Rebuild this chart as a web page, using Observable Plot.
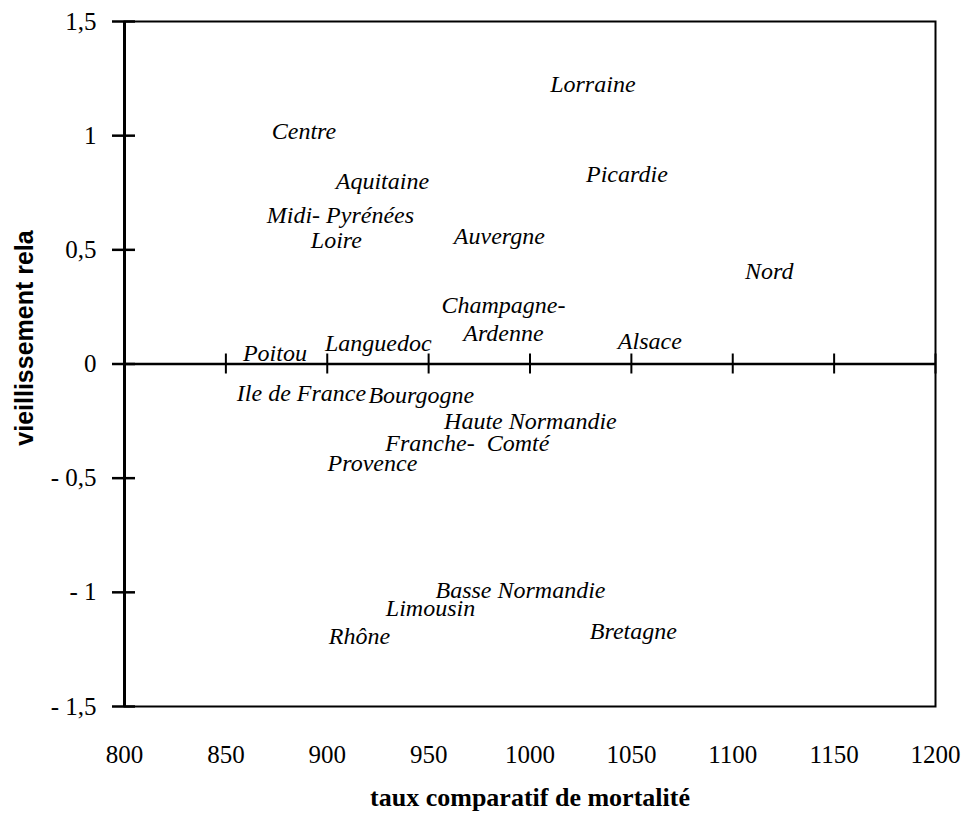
<!DOCTYPE html>
<html>
<head>
<meta charset="utf-8">
<script src="https://cdn.jsdelivr.net/npm/d3@7"></script>
<script src="https://cdn.jsdelivr.net/npm/@observablehq/plot@0.6"></script>
<style>
  html, body { margin: 0; padding: 0; background: #fff; }
  #chart svg { display: block; }
  #chart svg text.serif, #chart svg .serif text { font-family: "Liberation Serif", "Times New Roman", "DejaVu Serif", serif !important; }
  #chart svg .sans text { font-family: "Liberation Sans", Arial, "DejaVu Sans", sans-serif !important; }
</style>
</head>
<body>
<div id="chart"></div>
<script>
// Regions (labels) and their values
const regions = [
  "Lorraine", "Centre", "Picardie", "Aquitaine", "Midi- Pyrénées", "Auvergne",
  "Loire", "Nord", "Champagne-\nArdenne", "Alsace", "Languedoc", "Poitou",
  "Ile de France", "Bourgogne", "Haute Normandie", "Franche-  Comté", "Provence",
  "Basse Normandie", "Limousin", "Bretagne", "Rhône"
];
// taux comparatif de mortalité
const mortalite = [
  1031, 888.5, 1047.8, 927.2, 906.5, 984.9,
  904.5, 1118, 986.9, 1059.1, 925.2, 874.2,
  887.3, 946.4, 1000.2, 969.1, 922.3,
  995.3, 950.9, 1051, 915.9
];
// vieillissement relatif
const vieillissement = [
  1.232, 1.026, 0.838, 0.803, 0.658, 0.566,
  0.548, 0.412, 0.202, 0.105, 0.096, 0.053,
  -0.123, -0.132, -0.246, -0.344, -0.430,
  -0.987, -1.064, -1.164, -1.186
];

const xTicks = [800, 850, 900, 950, 1000, 1050, 1100, 1150, 1200];
const xTickLabels = ["800", "850", "900", "950", "1000", "1050", "1100", "1150", "1200"];
const yTicks = [-1.5, -1, -0.5, 0, 0.5, 1, 1.5];
const yTickLabels = ["- 1,5", "- 1", "- 0,5", "0", "0,5", "1", "1,5"];
const xTitle = "taux comparatif de mortalité";
const yTitle = "vieillissement rela";

const data = regions.map((r, i) => ({region: r, x: mortalite[i], y: vieillissement[i]}));
const xMin = xTicks[0];
const xFmt = new Map(xTicks.map((t, i) => [t, xTickLabels[i]]));
const yFmt = new Map(yTicks.map((t, i) => [t, yTickLabels[i]]));

const serif = "Liberation Serif, Times New Roman, DejaVu Serif, serif";
const sans = "Liberation Sans, Arial, DejaVu Sans, sans-serif";

const chart = Plot.plot({
  width: 964,
  height: 814,
  marginLeft: 124,
  marginRight: 29,
  marginTop: 21,
  marginBottom: 108,
  style: {background: "#fff", color: "#000"},
  x: {domain: [xTicks[0], xTicks[xTicks.length - 1]]},
  y: {domain: [yTicks[0], yTicks[yTicks.length - 1]]},
  marks: [
    Plot.frame({stroke: "#000", strokeWidth: 2}),
    // vertical axis line
    Plot.ruleX([xMin], {stroke: "#000", strokeWidth: 3}),
    // y ticks crossing the axis
    Plot.ruleY(yTicks, {y: d => d, x1: xMin, x2: xMin, insetLeft: -12, insetRight: -11, stroke: "#000", strokeWidth: 2.5}),
    // horizontal axis line at 0
    Plot.ruleY([0], {stroke: "#000", strokeWidth: 2.5}),
    // x ticks crossing the zero line
    Plot.ruleX(xTicks, {x: d => d, y1: 0, y2: 0, insetTop: -10, insetBottom: -10, stroke: "#000", strokeWidth: 2}),
    Plot.axisY({ticks: yTicks, tickSize: 0, tickPadding: 28, tickFormat: d => yFmt.get(d), fontSize: 25, fontFamily: serif, label: null, className: "serif"}),
    Plot.axisX({ticks: xTicks, tickSize: 0, tickPadding: 39, tickFormat: d => xFmt.get(d), fontSize: 25, fontFamily: serif, label: null, className: "serif"}),
    Plot.text(data, {
      x: "x", y: "y", text: "region",
      fontStyle: "italic", fontFamily: serif, fontSize: 24, lineHeight: 1.15, fill: "#000", className: "serif"
    }),
    Plot.text([xTitle], {
      frameAnchor: "bottom", textAnchor: "middle", lineAnchor: "middle", dy: 91, text: d => d,
      fontWeight: "bold", fontFamily: serif, fontSize: 26, fill: "#000", className: "serif"
    }),
    Plot.text([yTitle], {
      frameAnchor: "left", textAnchor: "middle", lineAnchor: "middle", dx: -100, dy: -26, rotate: -90, text: d => d,
      fontWeight: "bold", fontFamily: sans, fontSize: 25, fill: "#000", className: "sans"
    })
  ]
});
document.getElementById("chart").appendChild(chart);
</script>
</body>
</html>
